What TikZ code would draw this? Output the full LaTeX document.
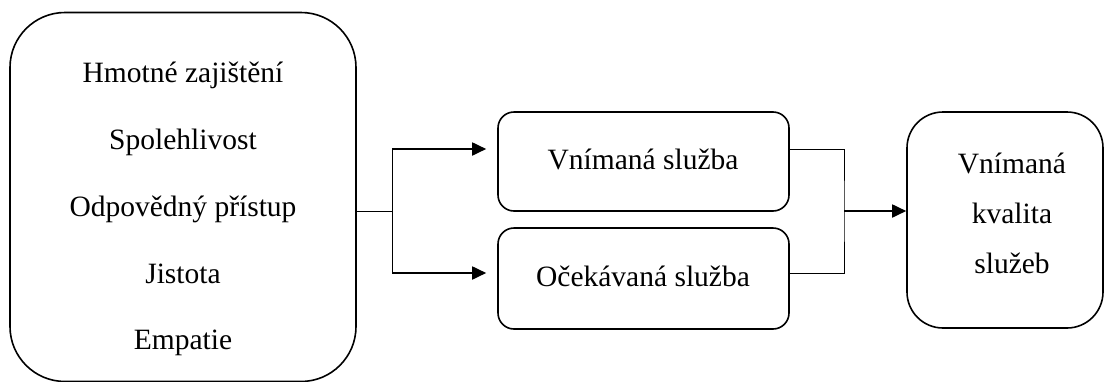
\documentclass[tikz,border=0pt]{standalone}
\usepackage{fontspec}
\setmainfont{Liberation Serif}
\usetikzlibrary{arrows.meta,calc}
\begin{document}
\begin{tikzpicture}[x=1pt,y=-1pt,
  box/.style={draw,line width=1.6pt,inner sep=0pt},
  lbl/.style={font=\fontsize{29.5}{32}\selectfont,anchor=base,inner sep=0pt},
  thin/.style={line width=0.9pt},
  arr/.style={line width=1.8pt,-{Triangle[length=14pt,width=13pt]}}]
\useasboundingbox (0,0) rectangle (1104,381);
% boxes
\node[box,rounded corners=55pt,minimum width=346pt,minimum height=369pt] (dims) at (183,197) {};
\node[box,rounded corners=16pt,minimum width=291pt,minimum height=99pt] (perc) at (643.5,161.5) {};
\node[box,rounded corners=16pt,minimum width=291pt,minimum height=101pt] (expt) at (643.5,278.5) {};
\node[box,rounded corners=36pt,minimum width=196pt,minimum height=216pt] (qual) at (1005,220) {};
% labels
\node[lbl] (d1) at (183,82) {Hmotné zajištění};
\node[lbl] (d2) at (183,149) {Spolehlivost};
\node[lbl] (d3) at (183,216) {Odpovědný přístup};
\node[lbl] (d4) at (183,283) {Jistota};
\node[lbl] (d5) at (183,349) {Empatie};
\node[lbl] (p1) at (643,169) {Vnímaná služba};
\node[lbl] (e1) at (643,286) {Očekávaná služba};
\node[lbl] (q1) at (1012,173) {Vnímaná};
\node[lbl] (q2) at (1012,223) {kvalita};
\node[lbl] (q3) at (1012,273) {služeb};
% connectors
\coordinate (split) at (392,211);
\coordinate (up) at (392,149);
\coordinate (down) at (392,273);
\coordinate (join) at (844,211);
\draw[thin] (dims.east |- split) -- (split);
\draw[thin] (up) -- (down);
\draw[arr,shorten >=11pt] (up) -- (perc.west |- up);
\draw[arr,shorten >=11pt] (down) -- (expt.west |- down);
\draw[thin] (perc.east |- up) -| (join) |- (expt.east |- down);
\draw[arr] (join) -- (qual.west |- join);
\end{tikzpicture}
\end{document}
